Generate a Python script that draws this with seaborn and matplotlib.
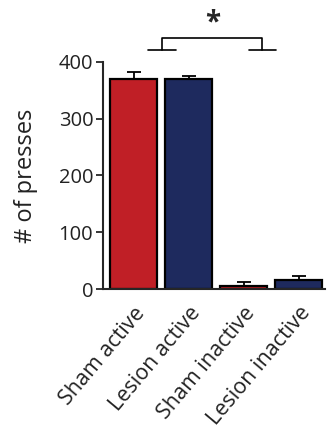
import matplotlib
matplotlib.use("Agg")
import matplotlib.pyplot as plt
import seaborn as sns
import pandas as pd
import numpy as np

categories = ["Sham active", "Lesion active", "Sham inactive", "Lesion inactive"]
means = [370, 370, 5, 16]
errors = [12, 5, 7, 7]
colors = ["#C01F26", "#1E2A5E", "#C01F26", "#1E2A5E"]
yticks = [0, 100, 200, 300, 400]

sns.set_style("ticks")
plt.rcParams['font.family'] = ['Open Sans', 'DejaVu Sans']

df = pd.DataFrame({"cat": categories, "val": means})

fig = plt.figure(figsize=(3.27, 4.32), dpi=100)
ax = fig.add_axes([0.315, 0.331, 0.679, 0.526])

sns.barplot(data=df, x="cat", y="val", hue="cat", palette=colors, legend=False,
            width=0.85, edgecolor="black", linewidth=1.6, saturation=1, errorbar=None, ax=ax)
x = np.arange(len(categories))
ax.errorbar(x, means, yerr=errors, fmt="none", ecolor="black", elinewidth=1.3,
            capsize=5, capthick=1.3, zorder=1)
for b in ax.patches:
    b.set_zorder(2)

ax.set_ylim(0, 400)
ax.set_xlim(-0.555, 3.48)
ax.set_yticks(yticks)
ax.set_yticklabels([str(t) for t in yticks], fontsize=14.5, color="#222222")
ax.set_xticks(x)
ax.set_xticklabels(categories, rotation=50, ha="right", rotation_mode="anchor",
                   fontsize=15.5, color="#222222")
ax.set_xlabel("")
ax.set_ylabel("# of presses", fontsize=17, labelpad=15, color="#222222")
ax.tick_params(axis="y", length=5, width=1.3, pad=2)
ax.tick_params(axis="x", length=0, pad=10)
for s in ["top", "right"]:
    ax.spines[s].set_visible(False)
ax.spines["left"].set_linewidth(1.5)
ax.spines["bottom"].set_linewidth(1.5)

# significance bracket
kw = dict(color="black", lw=1.2, clip_on=False)
ax.plot([0.26, 0.77], [421, 421], **kw)
ax.plot([2.1, 2.59], [421, 421], **kw)
ax.plot([0.52, 0.52, 2.34, 2.34], [421, 442, 442, 421], **kw)
ax.text(1.43, 443, "*", ha="center", va="bottom", fontsize=20, fontweight="bold")

fig.savefig("out.png", dpi=100)
